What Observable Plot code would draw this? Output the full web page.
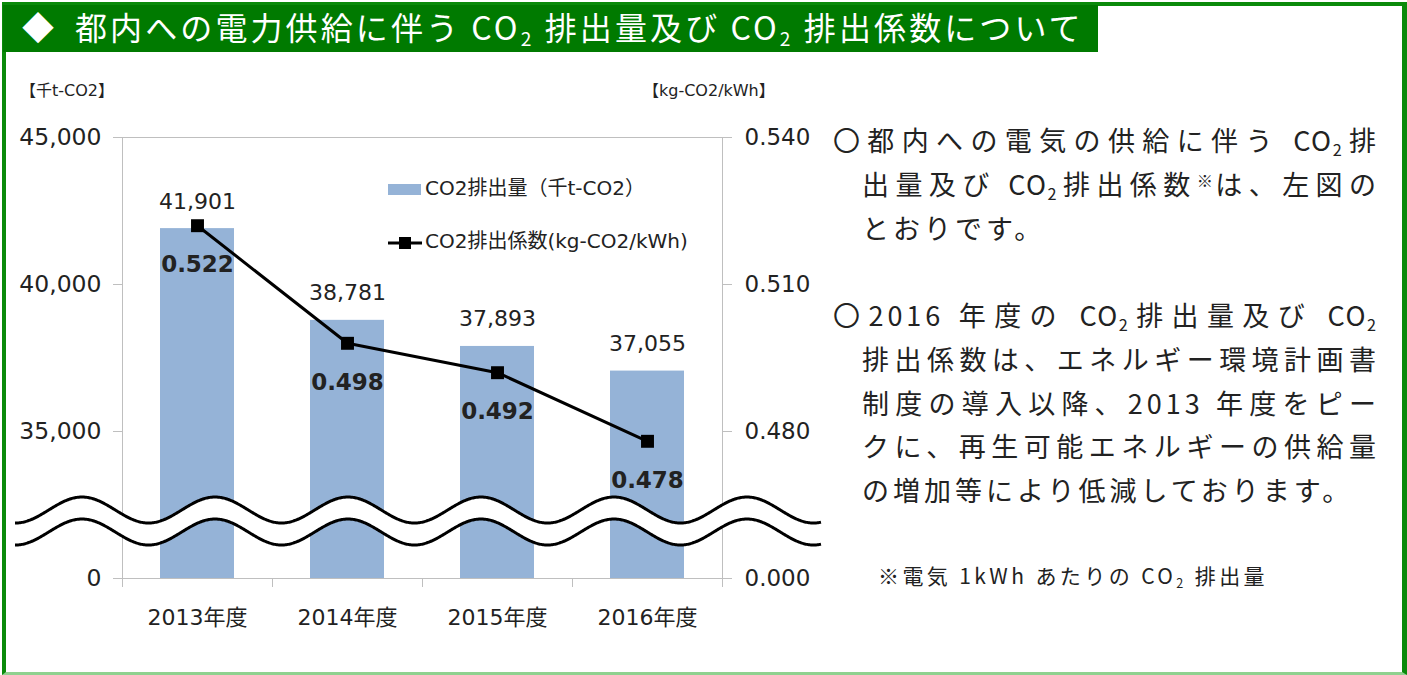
<!DOCTYPE html>
<html lang="ja">
<head>
<meta charset="utf-8">
<script src="https://cdn.jsdelivr.net/npm/d3@7"></script>
<script src="https://cdn.jsdelivr.net/npm/@observablehq/plot@0.6"></script>
<style>
  html, body { margin: 0; padding: 0; background: #fff; }
  #page { position: relative; width: 1407px; height: 675px; overflow: hidden; background: #fff;
          font-family: 'Noto Sans CJK JP', 'DejaVu Sans', sans-serif; }
  #frame { position: absolute; left: 2px; top: 2px; width: 1405px; height: 673px; box-sizing: border-box;
           border-left: 4px solid #0a8a0a; border-top: 4px solid #0a8a0a; border-right: 5px solid #0a8a0a;
           border-bottom: 3px solid #8fd18f; }
  #title { position: absolute; left: 3px; top: 5px; width: 1095px; height: 47px; background: #007a00;
           color: #fff; font-size: 32px; line-height: 43px; white-space: nowrap; letter-spacing: 3.1px; }
  #title .dia { position: absolute; left: 19px; top: 0; letter-spacing: 0; }
  #title .txt { position: absolute; left: 72px; top: 0; }
  #title sub, .para sub, #foot sub { font-size: 0.6em; vertical-align: -0.3em; line-height: 0; }
  #chart { position: absolute; left: 0; top: 100px; }
  #wave { position: absolute; left: 0; top: 0; pointer-events: none; }
  .unit { position: absolute; top: 77px; font-family: 'DejaVu Sans', 'Noto Sans CJK JP', sans-serif;
          font-size: 16px; color: #222; white-space: nowrap; }
  .legend { position: absolute; left: 388px; font-family: 'DejaVu Sans', 'Noto Sans CJK JP', sans-serif;
            font-size: 20px; color: #222; white-space: nowrap; height: 26px; line-height: 26px; }
  .legend svg { vertical-align: middle; margin-right: 3px; }
  .para { position: absolute; left: 833px; top: 118px; width: 547px; font-size: 27px; color: #222;
          letter-spacing: 4px; }
  .para .l { height: 43.75px; line-height: 43.75px; white-space: nowrap; }
  .para .l.cont { padding-left: 29px; }
  .para .l.just { text-align: justify; text-align-last: justify; white-space: normal; }
  .para .co { letter-spacing: 1.5px; }
  .para sup { font-size: 0.6em; vertical-align: 0.5em; line-height: 0; letter-spacing: 0; }
  #foot { position: absolute; left: 878px; top: 560px; font-size: 21px; color: #222; letter-spacing: 3.4px;
          white-space: nowrap; line-height: 30px; }
</style>
</head>
<body>
<div id="page">
  <div id="frame"></div>
  <div id="title"><span class="dia">◆</span><span class="txt">都内への電力供給に伴う CO<sub>2</sub> 排出量及び CO<sub>2</sub> 排出係数について</span></div>
  <div class="unit" style="left:20px">【千t-CO2】</div>
  <div class="unit" style="left:643px">【kg-CO2/kWh】</div>
  <div id="chart"></div>
  <svg id="wave" width="1407" height="675"></svg>
  <div class="legend" style="top:175px"><svg width="34" height="12"><rect x="0" y="0" width="33" height="11" fill="#95B3D7"/></svg>CO2排出量（千t-CO2）</div>
  <div class="legend" style="top:228px"><svg width="34" height="14"><line x1="0" x2="34" y1="7" y2="7" stroke="#000" stroke-width="3"/><rect x="11" y="1" width="12" height="12" fill="#000"/></svg>CO2排出係数(kg-CO2/kWh)</div>
  <div class="para">
    <div class="l just">〇都内への電気の供給に伴う <span class="co">CO</span><sub>2</sub>排</div>
    <div class="l cont just">出量及び <span class="co">CO</span><sub>2</sub>排出係数<sup>※</sup>は、左図の</div>
    <div class="l cont">とおりです。</div>
    <div class="l">&nbsp;</div>
    <div class="l just">〇2016 年度の <span class="co">CO</span><sub>2</sub>排出量及び <span class="co">CO</span><sub>2</sub></div>
    <div class="l cont just">排出係数は、エネルギー環境計画書</div>
    <div class="l cont just">制度の導入以降、2013 年度をピー</div>
    <div class="l cont just">クに、再生可能エネルギーの供給量</div>
    <div class="l cont">の増加等により低減しております。</div>
  </div>
  <div id="foot">※電気 1kWh あたりの CO<sub>2</sub> 排出量</div>
</div>
<script>
// ---- data ----
const years = ["2013年度", "2014年度", "2015年度", "2016年度"];
const emissions = [41901, 38781, 37893, 37055];          // 千t-CO2
const factors = [0.522, 0.498, 0.492, 0.478];           // kg-CO2/kWh
const leftTicks = [30000, 35000, 40000, 45000];
const leftTickLabels = ["0", "35,000", "40,000", "45,000"];
const rightTicks = [0.45, 0.48, 0.51, 0.54];
const rightTickLabels = ["0.000", "0.480", "0.510", "0.540"];

// broken axes: left 30,000–45,000 (bottom labelled 0), right 0.450–0.540 (bottom labelled 0.000)
const leftDomain = [30000, 45000];
const rightDomain = [0.45, 0.54];
const toLeft = v => leftDomain[0] + (v - rightDomain[0]) / (rightDomain[1] - rightDomain[0]) * (leftDomain[1] - leftDomain[0]);

const data = years.map((year, i) => ({year, em: emissions[i], f: factors[i], fy: toLeft(factors[i])}));
const rightTicksMapped = rightTicks.map(toLeft);

const font = "'DejaVu Sans','Noto Sans CJK JP',sans-serif";
const axisGray = "#bfbfbf";
const ink = "#222";

const chart = Plot.plot({
  width: 820,
  height: 538,
  marginLeft: 122,
  marginRight: 98,
  marginTop: 37,
  marginBottom: 60,
  style: {fontFamily: font, color: ink, background: "transparent", overflow: "visible"},
  x: {domain: years, padding: 0},
  y: {domain: leftDomain},
  marks: [
    Plot.barY(data, {x: "year", y1: leftDomain[0], y2: "em", fill: "#95B3D7", insetLeft: 38, insetRight: 38}),
    Plot.frame({stroke: axisGray}),
    Plot.axisY(leftTicks, {anchor: "left", tickSize: 9, tickPadding: 12, fontSize: 23.5, stroke: axisGray, color: ink,
      tickFormat: d => leftTickLabels[leftTicks.indexOf(d)], label: null}),
    Plot.axisY(rightTicksMapped, {anchor: "right", tickSize: 9, tickPadding: 13, fontSize: 23, stroke: axisGray, color: ink,
      tickFormat: d => rightTickLabels[rightTicksMapped.indexOf(d)], label: null}),
    Plot.axisX({tickSize: 0, tickPadding: 31, fontSize: 22, color: ink, label: null}),
    Plot.ruleX(years, {x: d => d, y1: leftDomain[0], y2: leftDomain[0], insetBottom: -9, dx: -75, stroke: axisGray}),
    Plot.ruleX([years[years.length - 1]], {x: d => d, y1: leftDomain[0], y2: leftDomain[0], insetBottom: -9, dx: 75, stroke: axisGray}),
    Plot.text(data, {x: "year", y: "em", text: d => d3.format(",")(d.em), dy: -27, fontSize: 22, fill: ink}),
    Plot.line(data, {x: "year", y: "fy", stroke: "#000", strokeWidth: 3}),
    Plot.dot(data, {x: "year", y: "fy", symbol: "square", r: 7.3, fill: "#000", stroke: null}),
    Plot.text(data, {x: "year", y: "fy", text: d => d3.format(".3f")(d.f), dy: 39, fontSize: 23, fontWeight: "bold", fill: ink})
  ]
});
document.getElementById("chart").appendChild(chart);

// ---- axis-break decoration (double wavy band) ----
(function drawBreak() {
  const svg = d3.select("#wave");
  const x0 = 15, x1 = 821, period = 133, phase = 82, amp = 13, cTop = 510, cBot = 532;
  const xs = d3.range(x0, x1 + 0.5, 1);
  const wave = c => xs.map(x => [x, c - amp * Math.cos(2 * Math.PI * (x - phase) / period)]);
  const top = wave(cTop), bot = wave(cBot);
  const line = d3.line();
  svg.append("path").attr("d", line(top.concat(bot.slice().reverse())) + "Z").attr("fill", "#fff");
  svg.append("path").attr("d", line(top)).attr("fill", "none").attr("stroke", "#000").attr("stroke-width", 3);
  svg.append("path").attr("d", line(bot)).attr("fill", "none").attr("stroke", "#000").attr("stroke-width", 3);
})();
</script>
</body>
</html>
